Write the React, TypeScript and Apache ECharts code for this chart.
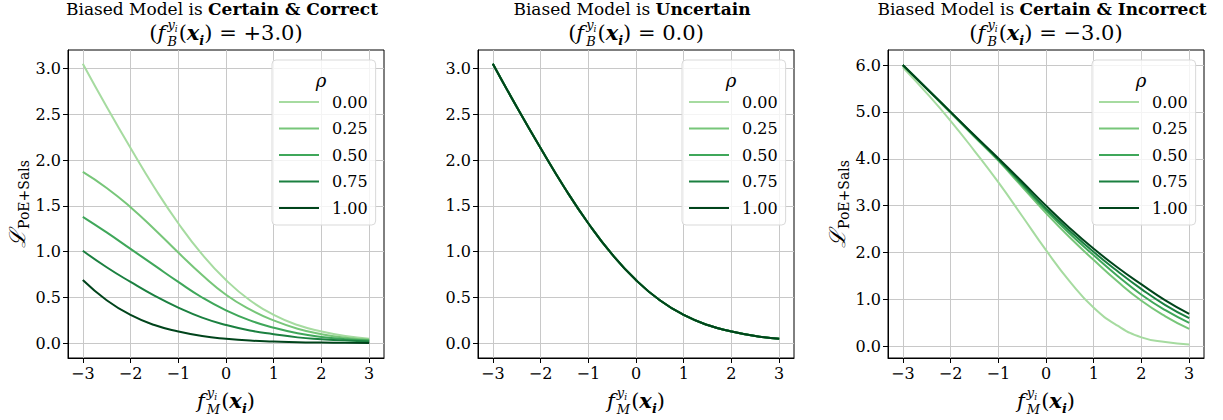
import React, { useEffect, useRef } from 'react';
import * as echarts from 'echarts';

// ---------- data ----------
const xValues = [-3, -2.5, -2, -1.5, -1, -0.5, 0, 0.5, 1, 1.5, 2, 2.5, 3];
const rhoLabels = ['0.00', '0.25', '0.50', '0.75', '1.00'];
const rhoColors = ['#a6dba0', '#77c679', '#3fa75a', '#1b8040', '#00441b'];

// Panel 1: biased model certain & correct (f_B = +3.0)
const correctRho000 = [3.05, 2.58, 2.13, 1.70, 1.31, 0.97, 0.69, 0.47, 0.31, 0.20, 0.13, 0.08, 0.05];
const correctRho025 = [1.87, 1.695, 1.485, 1.245, 0.99, 0.745, 0.53, 0.37, 0.25, 0.16, 0.10, 0.06, 0.04];
const correctRho050 = [1.38, 1.21, 1.03, 0.85, 0.67, 0.50, 0.36, 0.25, 0.17, 0.11, 0.07, 0.045, 0.03];
const correctRho075 = [1.01, 0.83, 0.67, 0.52, 0.39, 0.28, 0.20, 0.14, 0.10, 0.065, 0.045, 0.03, 0.02];
const correctRho100 = [0.69, 0.47, 0.31, 0.20, 0.13, 0.08, 0.05, 0.03, 0.02, 0.012, 0.008, 0.005, 0.003];

// Panel 2: biased model uncertain (f_B = 0.0) - all rho coincide
const uncertainCurve = [3.05, 2.58, 2.13, 1.70, 1.31, 0.97, 0.69, 0.47, 0.31, 0.20, 0.13, 0.08, 0.05];

// Panel 3: biased model certain & incorrect (f_B = -3.0)
const incorrectRho000 = [5.95, 5.40, 4.81, 4.17, 3.50, 2.78, 2.05, 1.38, 0.82, 0.44, 0.19, 0.09, 0.04];
const incorrectRho025 = [5.99, 5.49, 4.98, 4.47, 3.96, 3.40, 2.84, 2.32, 1.84, 1.38, 0.97, 0.64, 0.37];
const incorrectRho050 = [6.00, 5.50, 4.99, 4.48, 3.98, 3.44, 2.90, 2.40, 1.94, 1.50, 1.10, 0.77, 0.50];
const incorrectRho075 = [6.00, 5.50, 5.00, 4.49, 3.99, 3.47, 2.94, 2.46, 2.01, 1.60, 1.22, 0.88, 0.60];
const incorrectRho100 = [6.00, 5.50, 5.00, 4.50, 4.01, 3.51, 3.00, 2.52, 2.08, 1.68, 1.32, 0.98, 0.69];

const xTicks = [-3, -2, -1, 0, 1, 2, 3];
const yTicksSmall = [0, 0.5, 1, 1.5, 2, 2.5, 3];
const yTicksLarge = [0, 1, 2, 3, 4, 5, 6];

const panelTitles = ['Certain & Correct', 'Uncertain', 'Certain & Incorrect'];
const panelBias = ['+3.0', '0.0', '\u22123.0'];
const panelCurves = [
  [correctRho000, correctRho025, correctRho050, correctRho075, correctRho100],
  [uncertainCurve, uncertainCurve, uncertainCurve, uncertainCurve, uncertainCurve],
  [incorrectRho000, incorrectRho025, incorrectRho050, incorrectRho075, incorrectRho100],
];
const panelYTicks = [yTicksSmall, yTicksSmall, yTicksLarge];
const panelYRange = [[-0.16, 3.2], [-0.16, 3.2], [-0.25, 6.32]];
const panelHasYLabel = [true, false, true];

// ---------- layout ----------
const FONT = '"DejaVu Serif", serif';
const panelLefts = [68, 478, 888];
const plotTop = 50;
const plotW = 316;
const plotH = 308;

type Piece = {
  t: string; size: number; italic?: boolean; bold?: boolean; dy?: number;
  mark?: boolean; back?: boolean; end?: boolean; gap?: number;
};

let measureCtx: CanvasRenderingContext2D | null = null;
function measure(p: Piece): number {
  if (!measureCtx) measureCtx = document.createElement('canvas').getContext('2d');
  const ctx = measureCtx!;
  ctx.font = `${p.italic ? 'italic ' : ''}${p.bold ? 'bold ' : ''}${p.size}px ${FONT}`;
  return ctx.measureText(p.t).width;
}

function mathGroup(pieces: Piece[], cx: number, baseline: number, rotation = 0) {
  let x = 0, mark = 0, maxX = 0;
  const placed: { p: Piece; x: number }[] = [];
  for (const p of pieces) {
    if (p.mark) { mark = x; maxX = x; }
    if (p.back) { maxX = Math.max(maxX, x); x = mark; }
    placed.push({ p, x });
    x += measure(p) + (p.gap || 0);
    if (p.end) x = Math.max(x, maxX);
  }
  const off = -x / 2;
  return {
    type: 'group',
    x: cx,
    y: baseline,
    rotation,
    silent: true,
    children: placed.map(({ p, x: px }) => ({
      type: 'text',
      x: px + off,
      y: (p.dy || 0) - 0.35 * p.size,
      style: {
        text: p.t,
        fontFamily: FONT,
        fontSize: p.size,
        fontStyle: p.italic ? 'italic' : 'normal',
        fontWeight: p.bold ? 'bold' : 'normal',
        fill: '#000',
        align: 'left',
        verticalAlign: 'middle',
      },
    })),
  };
}

function fPieces(sub: string, size: number): Piece[] {
  const s = Math.round(size * 0.62);
  return [
    { t: 'f', size, italic: true, gap: size * 0.1 },
    { t: 'y', size: s, italic: true, dy: -size * 0.5, mark: true },
    { t: 'i', size: Math.round(s * 0.72), italic: true, dy: -size * 0.38, gap: 1 },
    { t: sub, size: s, italic: true, dy: size * 0.3, back: true, end: true, gap: 1 },
    { t: '(', size },
    { t: 'x', size, italic: true, bold: true },
    { t: 'i', size: s, italic: true, bold: true, dy: size * 0.22 },
    { t: ')', size },
  ];
}

const fmtX = (v: number) => (v < 0 ? '\u2212' + Math.abs(v) : String(v));

function buildOption() {
  const grid: any[] = [];
  const xAxis: any[] = [];
  const yAxis: any[] = [];
  const series: any[] = [];
  const legend: any[] = [];
  const graphic: any[] = [];

  panelLefts.forEach((left, p) => {
    grid.push({
      left, top: plotTop, width: plotW, height: plotH,
      show: true, borderColor: '#000', borderWidth: 1,
      containLabel: false, outerBoundsMode: 'none',
    });
    xAxis.push({
      type: 'value', gridIndex: p, min: -3.31, max: 3.31, splitNumber: 6,
      axisLine: { show: true, onZero: false, lineStyle: { color: '#000', width: 1 } },
      axisTick: { show: true, length: 5, lineStyle: { color: '#000' }, customValues: xTicks },
      axisLabel: { customValues: xTicks, formatter: fmtX, fontFamily: FONT, fontSize: 16, color: '#000', margin: 7 },
      splitLine: { show: true, lineStyle: { color: '#c8c8c8', width: 1 } },
    });
    const yt = panelYTicks[p];
    yAxis.push({
      type: 'value', gridIndex: p, min: panelYRange[p][0], max: panelYRange[p][1], splitNumber: yt.length - 1,
      axisLine: { show: true, onZero: false, lineStyle: { color: '#000', width: 1 } },
      axisTick: { show: true, length: 5, lineStyle: { color: '#000' }, customValues: yt },
      axisLabel: { customValues: yt, formatter: (v: number) => v.toFixed(1), fontFamily: FONT, fontSize: 16, color: '#000', margin: 7 },
      splitLine: { show: true, lineStyle: { color: '#c8c8c8', width: 1 } },
    });
    panelCurves[p].forEach((vals, i) => {
      series.push({
        type: 'line', name: rhoLabels[i], xAxisIndex: p, yAxisIndex: p,
        data: xValues.map((x, k) => [x, vals[k]]),
        smooth: 0.5, symbol: 'none', showSymbol: false,
        lineStyle: { color: rhoColors[i], width: 2 }, itemStyle: { color: rhoColors[i] },
        z: 2 + i, silent: true,
      });
    });
    legend.push({
      left: left + 204, top: 60, orient: 'vertical',
      padding: [34, 8, 9, 7], itemWidth: 40, itemHeight: 2, itemGap: 10.5, icon: 'rect',
      backgroundColor: 'rgba(255,255,255,0.8)', borderColor: '#d9d9d9', borderWidth: 1, borderRadius: 4,
      selectedMode: false,
      textStyle: { fontFamily: FONT, fontSize: 16, color: '#000', padding: [0, 0, 0, 8], lineHeight: 16 },
      data: rhoLabels.map((n) => ({ name: n })),
    });

    const cx = left + plotW / 2;
    graphic.push({
      type: 'text', x: cx - 4, y: 9, silent: true,
      style: {
        text: `{n|Biased Model is }{b|${panelTitles[p]}}`,
        align: 'center', verticalAlign: 'middle',
        rich: {
          n: { fontFamily: FONT, fontSize: 17, fill: '#000' },
          b: { fontFamily: FONT, fontSize: 17, fontWeight: 'bold', fill: '#000' },
        },
      },
    });
    const tSize = 21;
    graphic.push(mathGroup(
      [{ t: '(', size: tSize }, ...fPieces('B', tSize), { t: ' = ' + panelBias[p] + ')', size: tSize }],
      cx, 40,
    ));
    graphic.push(mathGroup(fPieces('M', 21), cx, 408));
    if (panelHasYLabel[p]) {
      graphic.push(mathGroup(
        [{ t: '\u2112', size: 22, italic: true, gap: 1 }, { t: 'PoE+Sals', size: 14, dy: 4 }],
        left - 43, plotTop + plotH / 2, Math.PI / 2,
      ));
    }
    graphic.push({
      type: 'text', x: left + 253, y: 80, z: 10, silent: true,
      style: { text: '\u03C1', fontFamily: FONT, fontSize: 18, fontStyle: 'italic', fill: '#000', align: 'center', verticalAlign: 'middle' },
    });
  });

  return { animation: false, backgroundColor: '#fff', grid, xAxis, yAxis, series, legend, graphic };
}

export default function App() {
  const ref = useRef<HTMLDivElement>(null);
  useEffect(() => {
    if (!ref.current) return;
    const chart = echarts.init(ref.current, null, { renderer: 'svg' });
    chart.setOption(buildOption() as any);
    return () => chart.dispose();
  }, []);
  return <div ref={ref} style={{ position: 'fixed', left: 0, top: 0, width: 1223, height: 420 }} />;
}
